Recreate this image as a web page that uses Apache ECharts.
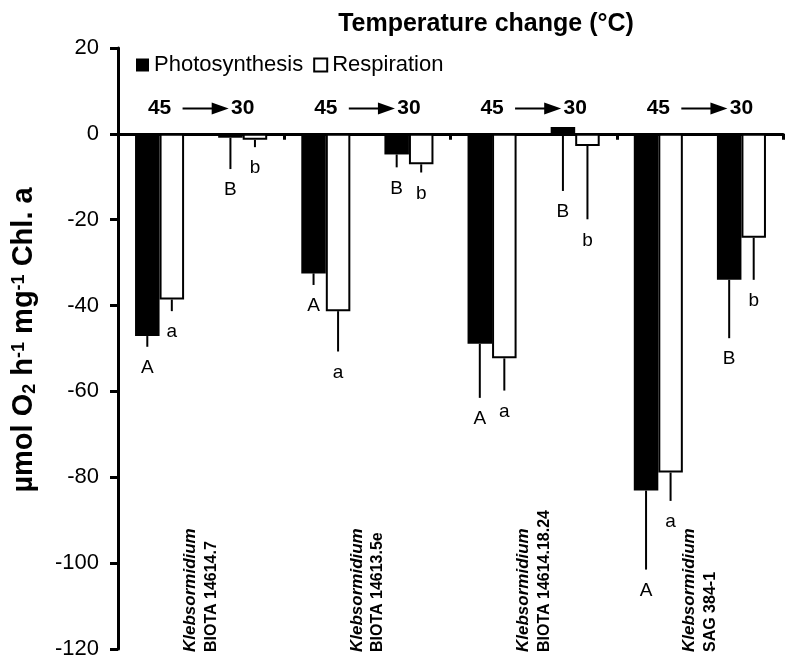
<!DOCTYPE html>
<html><head><meta charset="utf-8">
<script src="https://cdn.jsdelivr.net/npm/echarts@6/dist/echarts.min.js"></script>
<style>html,body{margin:0;padding:0;background:#fff}#c{width:800px;height:671px}</style>
</head><body><div id="c"></div>
<script>
// ---- data ----
const genus = 'Klebsormidium';
const strains = ['BIOTA 14614.7', 'BIOTA 14613.5e', 'BIOTA 14614.18.24', 'SAG 384-1'];
const tempFrom = '45', tempTo = '30';
const photo45 = [-47.1, -32.5, -48.9, -83.1];
const resp45  = [-38.6, -41.3, -52.3, -78.9];
const photo30 = [-0.9, -4.8, 1.6, -34.0];
const resp30  = [-1.4, -7.1, -2.8, -24.2];
const photo45Err = [2.5, 2.7, 12.6, 18.4];
const resp45Err  = [2.7, 9.4, 7.5, 6.6];
const photo30Err = [7.3, 3.0, 14.9, 13.6];
const resp30Err  = [1.7, 1.9, 17.1, 9.8];
const photo45Letters = ['A', 'A', 'A', 'A'];
const resp45Letters  = ['a', 'a', 'a', 'a'];
const photo30Letters = ['B', 'B', 'B', 'B'];
const resp30Letters  = ['b', 'b', 'b', 'b'];
const yMin = -120, yMax = 20, yStep = 20;
const arrowLevel = 5.9;

// ---- build ----
const FONT = '"Liberation Sans", Arial, sans-serif';
const GAP = 0.41;
const cats8 = [];
const photoData = [], respData = [];
const errData = [], errLetters = [];
strains.forEach((s, i) => {
  cats8.push(s + ' ' + tempFrom, s + ' ' + tempTo);
  photoData.push(photo45[i], photo30[i]);
  respData.push(resp45[i], resp30[i]);
  errData.push([2 * i, photo45[i], photo45Err[i], -1]); errLetters.push(photo45Letters[i]);
  errData.push([2 * i, resp45[i], resp45Err[i], 1]); errLetters.push(resp45Letters[i]);
  errData.push([2 * i + 1, photo30[i], photo30Err[i], -1]); errLetters.push(photo30Letters[i]);
  errData.push([2 * i + 1, resp30[i], resp30Err[i], 1]); errLetters.push(resp30Letters[i]);
});
const arrowData = strains.map((s, i) => [2 * i, arrowLevel]);

function renderErr(params, api) {
  const ci = api.value(0), v = api.value(1), e = api.value(2), side = api.value(3);
  const band = api.size([1, 0])[0];
  const bw = band * (1 - GAP) / 2;
  const p1 = api.coord([ci, v]);
  const p2 = api.coord([ci, v - e]);
  const x = p1[0] + side * bw / 2;
  return {
    type: 'group', children: [
      { type: 'line', shape: { x1: x, y1: p1[1], x2: x, y2: p2[1] }, style: { stroke: '#000', lineWidth: 2 } },
      { type: 'text', style: { text: errLetters[params.dataIndex], x: x, y: p2[1] + 21, align: 'center', verticalAlign: 'middle', fontSize: 19, fontFamily: FONT, fill: '#000' } }
    ]
  };
}
function renderArrow(params, api) {
  const ci = api.value(0), lv = api.value(1);
  const a = api.coord([ci, lv]);
  const b = api.coord([ci + 1, lv]);
  const y = a[1];
  const x1 = a[0] + 23, tip = b[0] - 14;
  return {
    type: 'group', children: [
      { type: 'text', style: { text: tempFrom, x: a[0], y: y, align: 'center', verticalAlign: 'middle', fontSize: 21, fontWeight: 'bold', fontFamily: FONT, fill: '#000' } },
      { type: 'text', style: { text: tempTo, x: b[0], y: y, align: 'center', verticalAlign: 'middle', fontSize: 21, fontWeight: 'bold', fontFamily: FONT, fill: '#000' } },
      { type: 'line', shape: { x1: x1, y1: y, x2: tip - 12, y2: y }, style: { stroke: '#000', lineWidth: 2 } },
      { type: 'polygon', shape: { points: [[tip - 17, y - 6], [tip, y], [tip - 17, y + 6]] }, style: { fill: '#000' } }
    ]
  };
}

const chart = echarts.init(document.getElementById('c'), null, { renderer: 'canvas' });
chart.setOption({
  animation: false,
  backgroundColor: '#fff',
  title: {
    text: 'Temperature change (°C)', left: 481, textAlign: 'center', top: 7,
    textStyle: { fontSize: 25, fontWeight: 'bold', fontFamily: FONT, color: '#000' }
  },
  legend: {
    data: ['Photosynthesis', 'Respiration'], left: 131, top: 49,
    itemWidth: 13, itemHeight: 13, itemGap: 10, icon: 'rect',
    textStyle: { fontSize: 22, fontFamily: FONT, color: '#000' }
  },
  grid: { left: 118, right: 17, top: 48, bottom: 22, containLabel: false },
  xAxis: [
    {
      type: 'category', data: cats8, position: 'top', gridIndex: 0,
      axisLine: { show: true, onZero: true, lineStyle: { color: '#000', width: 3 } },
      axisTick: { show: true, inside: true, interval: 1, length: 6, lineStyle: { color: '#000', width: 3 } },
      axisLabel: { show: false }, splitLine: { show: false }
    },
    {
      type: 'category', data: strains, position: 'bottom', gridIndex: 0,
      axisLine: { show: false, onZero: false }, axisTick: { show: false }, splitLine: { show: false },
      axisLabel: {
        show: true, inside: true, rotate: 90, interval: 0, margin: -3,
        formatter: (v) => '{i|' + genus + '}\n{n|' + v + '}',
        rich: {
          i: { fontSize: 17, fontStyle: 'italic', fontWeight: 'bold', fontFamily: FONT, color: '#000', lineHeight: 21 },
          n: { fontSize: 16, fontWeight: 'bold', fontFamily: FONT, color: '#000', lineHeight: 21 }
        }
      }
    }
  ],
  yAxis: {
    type: 'value', min: yMin, max: yMax, interval: yStep,
    axisLine: { show: true, lineStyle: { color: '#000', width: 3 } },
    axisTick: { show: true, length: 8, lineStyle: { color: '#000', width: 3 } },
    splitLine: { show: false },
    axisLabel: { fontSize: 22, fontFamily: FONT, color: '#000', margin: 19 },
    name: '{b|µmol O}{s|2}{b| h}{p|-1}{b| mg}{p|-1}{b| Chl. a}',
    nameLocation: 'middle', nameGap: 79,
    nameTextStyle: {
      padding: [0, 0, 0, 17],
      rich: {
        b: { fontSize: 29, fontWeight: 'bold', fontFamily: FONT, color: '#000', lineHeight: 31 },
        s: { fontSize: 18, fontWeight: 'bold', fontFamily: FONT, color: '#000', lineHeight: 18, verticalAlign: 'bottom', padding: [0, 0, 0, 0] },
        p: { fontSize: 18, fontWeight: 'bold', fontFamily: FONT, color: '#000', lineHeight: 18, verticalAlign: 'top', padding: [2, 0, 0, 0] }
      }
    }
  },
  series: [
    {
      name: 'Photosynthesis', type: 'bar', xAxisIndex: 0, data: photoData,
      barGap: '0%', barCategoryGap: (GAP * 100) + '%',
      itemStyle: { color: '#000', borderColor: '#000', borderWidth: 0 }
    },
    {
      name: 'Respiration', type: 'bar', xAxisIndex: 0, data: respData,
      barGap: '0%', barCategoryGap: (GAP * 100) + '%',
      itemStyle: { color: '#fff', borderColor: '#000', borderWidth: 2 }
    },
    {
      type: 'custom', xAxisIndex: 0, data: errData, renderItem: renderErr, z: 5, silent: true
    },
    {
      type: 'custom', xAxisIndex: 0, data: arrowData, renderItem: renderArrow, z: 5, silent: true, clip: false
    }
  ]
});
</script>
</body></html>
